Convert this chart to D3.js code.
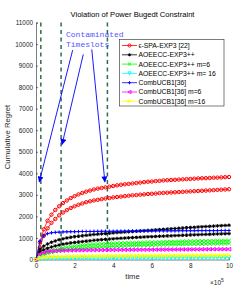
<!DOCTYPE html>
<html>
<head>
<meta charset="utf-8">
<script src="https://cdn.jsdelivr.net/npm/d3@7"></script>
<style>
  body { margin: 0; background: #fff; }
  text { font-family: "Liberation Sans", Arial, sans-serif; }
</style>
</head>
<body>
<script>
// time axis (x 10^5)
var time = [0,0.2,0.4,0.6,0.8,1,1.2,1.4,1.6,1.8,2,2.2,2.4,2.6,2.8,3,3.2,3.4,3.6,3.8,4,4.2,4.4,4.6,4.8,5,5.2,5.4,5.6,5.8,6,6.2,6.4,6.6,6.8,7,7.2,7.4,7.6,7.8,8,8.2,8.4,8.6,8.8,9,9.2,9.4,9.6,9.8,10];

var spaExp3A = [0,800,1400,1800,2080,2300,2470,2620,2740,2850,2940,3020,3090,3150,3200,3250,3290,3320,3350,3380,3410,3440,3470,3490,3510,3530,3550,3570,3590,3610,3620,3640,3650,3670,3680,3690,3700,3710,3720,3730,3740,3750,3760,3770,3775,3785,3795,3800,3810,3820,3830];
var spaExp3B = [0,550,1100,1450,1700,1880,2050,2180,2290,2390,2470,2540,2600,2660,2700,2740,2770,2800,2830,2850,2880,2900,2920,2940,2960,2980,2990,3010,3020,3040,3050,3060,3080,3090,3100,3110,3120,3130,3140,3150,3160,3170,3180,3190,3200,3210,3220,3230,3240,3250,3260];
var aoeeccA = [0,480,620,720,800,860,920,960,1000,1030,1060,1080,1100,1120,1140,1160,1175,1190,1205,1220,1235,1250,1260,1275,1285,1300,1310,1325,1335,1350,1360,1375,1385,1400,1410,1425,1435,1450,1460,1475,1485,1495,1510,1520,1530,1540,1550,1560,1570,1580,1590];
var aoeeccB = [0,350,450,520,580,630,670,710,740,770,790,810,830,850,870,890,905,920,935,950,960,975,985,995,1005,1015,1025,1035,1045,1055,1060,1070,1080,1085,1095,1100,1110,1115,1125,1130,1140,1145,1150,1160,1165,1170,1180,1185,1190,1195,1200];
var aoeeccM6A = [0,200,300,370,420,460,500,530,560,590,610,630,650,670,685,700,710,720,730,740,750,755,760,765,770,775,780,785,790,795,800,805,810,815,820,825,830,835,840,845,850,852,855,858,860,863,866,870,873,876,880];
var aoeeccM6B = [0,150,230,290,330,370,400,430,450,470,490,505,520,535,550,560,570,580,590,600,608,615,622,630,636,642,648,654,660,665,670,675,680,685,690,694,698,702,706,710,713,716,719,722,725,728,731,734,737,740,743];
var aoeeccM16 = [0,30,40,45,50,52,54,56,58,60,61,62,63,64,65,66,67,68,69,70,71,72,73,74,75,75,76,76,77,77,78,78,79,79,80,80,81,81,82,82,83,83,84,84,85,85,86,86,87,87,88];
var combUcb = [0,850,1100,1200,1240,1260,1270,1280,1285,1290,1290,1295,1300,1300,1300,1305,1305,1310,1310,1310,1310,1315,1315,1315,1320,1320,1320,1320,1325,1325,1325,1325,1330,1330,1330,1330,1330,1335,1335,1335,1335,1335,1340,1340,1340,1340,1340,1340,1345,1345,1345];
var combUcbM6 = [0,250,330,370,390,400,410,415,420,425,428,430,432,434,436,438,440,442,444,446,448,449,450,451,452,453,454,455,456,457,458,459,460,461,462,463,464,465,466,467,468,469,470,471,472,473,474,475,476,477,478];
var combUcbM16 = [0,80,100,110,120,125,130,135,140,142,145,147,150,152,154,156,158,160,162,164,166,167,168,169,170,171,172,173,174,175,176,177,178,179,180,181,182,183,184,185,186,187,188,189,190,191,192,193,194,195,196];

var legendLabels = ['\u03f5-SPA-EXP3 [22]', 'AOEECC-EXP3++', 'AOEECC-EXP3++ m=6', 'AOEECC-EXP3++ m= 16', 'CombUCB1[36]', 'CombUCB1[36] m=6', 'CombUCB1[36] m=16'];
var xTicks = [0, 2, 4, 6, 8, 10];
var yTicks = [0,1000,2000,3000,4000,5000,6000,7000,8000,9000,10000,11000];
var contaminated = [0.25, 1.3, 3.7];

// marker shapes
var mk = {
  o: function(a) { return 'M' + a + ',0A' + a + ',' + a + ' 0 1,1 ' + (-a) + ',0A' + a + ',' + a + ' 0 1,1 ' + a + ',0Z'; },
  star: function(a) { return 'M' + (-a) + ',0H' + a + 'M0,' + (-a) + 'V' + a + 'M' + (-a*0.7) + ',' + (-a*0.7) + 'L' + (a*0.7) + ',' + (a*0.7) + 'M' + (-a*0.7) + ',' + (a*0.7) + 'L' + (a*0.7) + ',' + (-a*0.7); },
  x: function(a) { return 'M' + (-a) + ',' + (-a) + 'L' + a + ',' + a + 'M' + (-a) + ',' + a + 'L' + a + ',' + (-a); },
  plus: function(a) { return 'M' + (-a) + ',0H' + a + 'M0,' + (-a) + 'V' + a; },
  down: function(a) { return 'M' + (-a) + ',' + (-a) + 'L' + a + ',' + (-a) + 'L0,' + a + 'Z'; },
  left: function(a) { return 'M' + a + ',' + (-a) + 'L' + a + ',' + a + 'L' + (-a) + ',0Z'; },
  right: function(a) { return 'M' + (-a) + ',' + (-a) + 'L' + (-a) + ',' + a + 'L' + a + ',0Z'; }
};

var series = [
  { v: spaExp3A, c: '#ff0000', m: 'o', leg: 0 },
  { v: spaExp3B, c: '#ff0000', m: 'o' },
  { v: aoeeccA, c: '#000000', m: 'star', leg: 1 },
  { v: aoeeccB, c: '#000000', m: 'star' },
  { v: aoeeccM6A, c: '#00ff00', m: 'x', leg: 2 },
  { v: aoeeccM6B, c: '#00ff00', m: 'x' },
  { v: aoeeccM16, c: '#00ffff', m: 'down', leg: 3 },
  { v: combUcb, c: '#0000ff', m: 'plus', leg: 4 },
  { v: combUcbM6, c: '#ff00ff', m: 'left', leg: 5 },
  { v: combUcbM16, c: '#ffff00', m: 'right', leg: 6 }
];

var svg = d3.select('body').append('svg').attr('width', 252).attr('height', 291);

var x = d3.scaleLinear().domain([0, 10]).range([36, 229]);
var y = d3.scaleLinear().domain([0, 11000]).range([259.5, 22.5]);

// axes
var xAxis = d3.axisBottom(x).tickValues(xTicks).tickSize(-2).tickPadding(4);
var yAxis = d3.axisLeft(y).tickValues(yTicks).tickFormat(d3.format('d')).tickSize(-2).tickPadding(3);
var gx = svg.append('g').attr('transform', 'translate(0,259.5)').call(xAxis);
var gy = svg.append('g').attr('transform', 'translate(36,0)').call(yAxis);
[gx, gy].forEach(function(g) {
  g.select('.domain').attr('stroke', '#262626').attr('stroke-width', 0.6);
  g.selectAll('.tick line').attr('stroke', '#262626').attr('stroke-width', 0.6);
  g.selectAll('.tick text').attr('fill', '#262626').style('font-size', '6.4px').style('font-family', '"Liberation Sans", Arial, sans-serif');
});

// contaminated timeslot markers
svg.selectAll('.cont').data(contaminated).enter().append('line')
  .attr('x1', function(d) { return x(d); }).attr('x2', function(d) { return x(d); })
  .attr('y1', y(11000)).attr('y2', y(300))
  .attr('stroke', '#2f6b4c').attr('stroke-width', 1.5).attr('stroke-dasharray', '4,3.5');

// curves
var line = d3.line().x(function(d, i) { return x(time[i]); }).y(function(d) { return y(d); });
series.forEach(function(s) {
  var g = svg.append('g');
  g.append('path').attr('d', line(s.v)).attr('fill', 'none').attr('stroke', s.c).attr('stroke-width', 0.8);
  g.selectAll('path.mk').data(s.v).enter().append('path').attr('class', 'mk')
    .attr('transform', function(d, i) { return 'translate(' + x(time[i]) + ',' + y(d) + ')'; })
    .attr('d', mk[s.m](s.m == 'o' ? 1.7 : 1.8))
    .attr('fill', 'none').attr('stroke', s.c).attr('stroke-width', 1);
});

// annotation
svg.append('defs').append('marker').attr('id', 'ah').attr('viewBox', '0 0 10 10')
  .attr('refX', 9).attr('refY', 5).attr('markerWidth', 7).attr('markerHeight', 6).attr('orient', 'auto')
  .attr('markerUnits', 'userSpaceOnUse')
  .append('path').attr('d', 'M0,0L10,5L0,10Z').attr('fill', '#0000ff');
var arrowFrom = [[1.9, 9720], [2.45, 9520], [2.89, 9750]];
var arrowTo = [[0.17, 3600], [1.35, 5340], [3.57, 3600]];
arrowFrom.forEach(function(p, i) {
  svg.append('line').attr('x1', x(p[0])).attr('y1', y(p[1]))
    .attr('x2', x(arrowTo[i][0])).attr('y2', y(arrowTo[i][1]))
    .attr('stroke', '#0000ff').attr('stroke-width', 0.9).attr('marker-end', 'url(#ah)');
});
svg.append('text').attr('x', 66).attr('y', 36.5).text('Contaminated')
  .style('font-family', '"Liberation Mono", "DejaVu Sans Mono", monospace').style('font-size', '8px').attr('fill', '#5555ff');
svg.append('text').attr('x', 66).attr('y', 46.5).text('Timeslots')
  .style('font-family', '"Liberation Mono", "DejaVu Sans Mono", monospace').style('font-size', '8px').attr('fill', '#5555ff');

// legend
var lg = svg.append('g');
lg.append('rect').attr('x', 119.5).attr('y', 39.5).attr('width', 104.5).attr('height', 66.5)
  .attr('fill', '#fff').attr('stroke', '#262626').attr('stroke-width', 0.6);
series.filter(function(s) { return s.leg !== undefined; }).forEach(function(s) {
  var ly = 45.5 + s.leg * 9.3;
  lg.append('line').attr('x1', 122).attr('x2', 137).attr('y1', ly).attr('y2', ly).attr('stroke', s.c).attr('stroke-width', 0.8);
  lg.append('path').attr('transform', 'translate(129.5,' + ly + ')').attr('d', mk[s.m](1.6))
    .attr('fill', 'none').attr('stroke', s.c).attr('stroke-width', 0.9);
  lg.append('text').attr('x', 138.5).attr('y', ly + 2.4).text(legendLabels[s.leg])
    .style('font-size', '6.8px').attr('fill', '#000');
});

// labels
svg.append('text').attr('x', 132.5).attr('y', 17).attr('text-anchor', 'middle')
  .text('Violation of Power Bugedt Constraint').style('font-size', '7.6px').attr('fill', '#000');
svg.append('text').attr('x', 132.5).attr('y', 279).attr('text-anchor', 'middle')
  .text('time').style('font-size', '7.6px').attr('fill', '#262626');
svg.append('text').attr('transform', 'translate(10,137) rotate(-90)').attr('text-anchor', 'middle')
  .text('Cumulative Regret').style('font-size', '7.8px').attr('fill', '#262626');
var ex = svg.append('text').attr('x', 210).attr('y', 285).style('font-size', '6.5px').attr('fill', '#262626');
ex.append('tspan').text('\u00d710');
ex.append('tspan').attr('dy', -3).style('font-size', '5px').text('5');
</script>
</body>
</html>
